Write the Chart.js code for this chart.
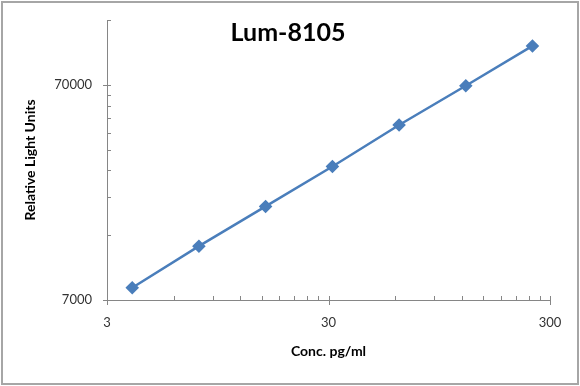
<!DOCTYPE html>
<html>
<head>
<meta charset="utf-8">
<script src="https://cdn.jsdelivr.net/npm/chart.js@4.4.0/dist/chart.umd.min.js"></script>
<style>
  body { margin: 0; background: #fff; }
  canvas { display: block; background: #fff; }
</style>
</head>
<body>
<canvas id="myChart" width="580" height="386"></canvas>
<script>
// values
const chartTitle = "Lum-8105";
const concentrations = [3.9, 7.8, 15.6, 31.25, 62.5, 125, 250];
const rlu = [7980, 12450, 19050, 29200, 45550, 69250, 106100];

// log axis tick positions (major ones get a label)
const xTicks = [3, 6, 9, 12, 15, 18, 21, 24, 27, 30, 60, 90, 120, 150, 180, 210, 240, 270, 300];
const xLabels = [3, 30, 300];
const yTicks = [7000, 14000, 21000, 28000, 35000, 42000, 49000, 56000, 63000, 70000, 140000];
const yLabels = [7000, 70000];

const axisColor = "#868686";
const lineColor = "#4a7ebb";

var ctx = document.getElementById("myChart");

// tick marks like the spreadsheet: majors cross the axis, minors sit inside
const tickMarks = {
  id: "tickMarks",
  beforeDatasetsDraw(chart) {
    let c = chart.ctx;
    let xs = chart.scales.x;
    let ys = chart.scales.y;
    c.save();
    c.strokeStyle = axisColor;
    c.lineWidth = 1;
    c.beginPath();
    xs.ticks.forEach((t) => {
      let px = Math.round(xs.getPixelForValue(t.value)) + 0.5;
      let major = xLabels.includes(t.value);
      c.moveTo(px, ys.bottom - 4);
      c.lineTo(px, ys.bottom + (major ? 5 : 0));
    });
    ys.ticks.forEach((t) => {
      let py = Math.round(ys.getPixelForValue(t.value)) + 0.5;
      let major = yLabels.includes(t.value);
      c.moveTo(xs.left - (major ? 4 : 0), py);
      c.lineTo(xs.left + 4, py);
    });
    c.stroke();
    c.restore();
  },
  afterDraw(chart) {
    let c = chart.ctx;
    c.save();
    c.fillStyle = "#000";
    c.font = "bold 25px Lato";
    c.textAlign = "center";
    c.textBaseline = "middle";
    c.fillText(chartTitle, 288, 33);
    c.strokeStyle = "#a6a6a6";
    c.lineWidth = 2;
    c.strokeRect(2, 2, 576, 382);
    c.restore();
  },
};

var myChart = new Chart(ctx, {
  type: "scatter",
  data: {
    datasets: [
      {
        data: concentrations.map((x, i) => ({ x: x, y: rlu[i] })),
        showLine: true,
        borderColor: lineColor,
        backgroundColor: lineColor,
        borderWidth: 2.5,
        pointStyle: "rectRot",
        pointRadius: 5,
        pointHoverRadius: 5,
      },
    ],
  },
  options: {
    responsive: false,
    animation: false,
    layout: { padding: { left: 0, right: 30, top: 20, bottom: 0 } },
    plugins: {
      legend: { display: false },
      tooltip: { enabled: false },
    },
    scales: {
      x: {
        type: "logarithmic",
        min: 3,
        max: 300,
        afterBuildTicks: (scale) => {
          scale.ticks = xTicks.map((v) => ({ value: v }));
        },
        afterFit: (scale) => {
          scale.height = 86;
          scale.paddingLeft = 0;
          scale.paddingRight = 0;
        },
        grid: { display: false, drawTicks: false },
        border: { display: true, color: axisColor, width: 1 },
        ticks: {
          autoSkip: false,
          maxRotation: 0,
          padding: 15,
          color: "#333",
          font: { family: "Lato", size: 13 },
          callback: (v) => (xLabels.includes(v) ? String(v) : ""),
        },
        title: {
          display: true,
          text: "Conc. pg/ml",
          color: "#000",
          font: { family: "Lato", size: 14, weight: "bold" },
          padding: { top: 0, bottom: 26 },
        },
      },
      y: {
        type: "logarithmic",
        min: 7000,
        max: 140000,
        afterBuildTicks: (scale) => {
          scale.ticks = yTicks.map((v) => ({ value: v }));
        },
        afterFit: (scale) => {
          scale.width = 107;
          scale.paddingTop = 0;
          scale.paddingBottom = 0;
        },
        grid: { display: false, drawTicks: false },
        border: { display: true, color: axisColor, width: 1 },
        ticks: {
          autoSkip: false,
          padding: 15,
          color: "#333",
          font: { family: "Lato", size: 13 },
          callback: (v) => (yLabels.includes(v) ? String(v) : ""),
        },
        title: {
          display: true,
          text: "Relative Light Units",
          color: "#000",
          font: { family: "Lato", size: 14, weight: "bold" },
          padding: { top: 22, bottom: 0 },
        },
      },
    },
  },
  plugins: [tickMarks],
});
</script>
</body>
</html>
